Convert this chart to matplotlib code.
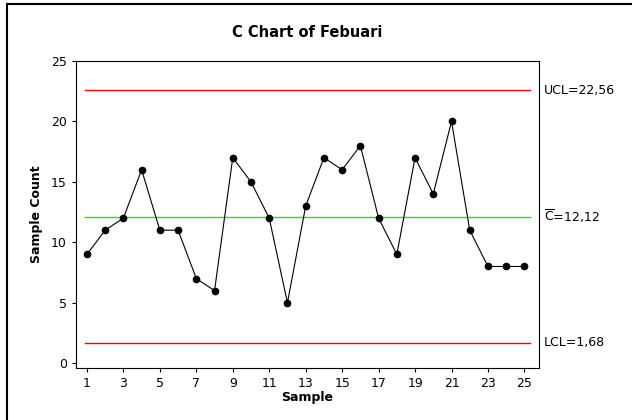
import matplotlib
matplotlib.use("Agg")
import matplotlib.pyplot as plt
from matplotlib.patches import Rectangle
import numpy as np

# Defect counts per sample (Febuari)
samples = list(range(1, 26))
counts = [9, 11, 12, 16, 11, 11, 7, 6, 17, 15, 12, 5, 13,
          17, 16, 18, 12, 9, 17, 14, 20, 11, 8, 8, 8]

# control limits for a C chart
c_bar = np.mean(counts)
ucl = c_bar + 3 * np.sqrt(c_bar)
lcl = max(c_bar - 3 * np.sqrt(c_bar), 0)

plt.rcParams['font.family'] = ['DejaVu Sans']

fig = plt.figure(figsize=(6.32, 4.20), dpi=100)
# outer frame of the graph window
fig.patches.append(Rectangle((7 / 632, -0.1), 1.2, 1 - 4 / 420 + 0.1,
                             transform=fig.transFigure, fill=False,
                             edgecolor='black', linewidth=1.5))

ax = fig.add_axes([76 / 632, 1 - 368 / 420, (539 - 76) / 632, (368 - 61) / 420])

ax.axhline(ucl, color='#ff0000', linewidth=1.0, xmin=0.02, xmax=0.98)
ax.axhline(lcl, color='#ff0000', linewidth=1.0, xmin=0.02, xmax=0.98)
ax.axhline(c_bar, color='#22dd22', linewidth=1.0, xmin=0.02, xmax=0.98)
ax.plot(samples, counts, color='black', linewidth=0.8, marker='o',
        markersize=4.5, zorder=3)

ax.set_xlim(0.4, 25.8)
ax.set_ylim(-0.4, 25)
ax.set_xticks(range(1, 26, 2))
ax.set_yticks(range(0, 26, 5))
ax.tick_params(direction='out', length=3, labelsize=9, width=0.8)
for s in ax.spines.values():
    s.set_linewidth(0.8)

ax.set_title("C Chart of Febuari", fontsize=10.5, fontweight='bold', pad=17)
ax.set_xlabel("Sample", fontsize=9, fontweight='bold', labelpad=1)
ax.set_ylabel("Sample Count", fontsize=9, fontweight='bold', labelpad=6)

def fmt(v):
    return f"{v:.2f}".replace('.', ',')

tr = ax.get_yaxis_transform()
ax.text(1.01, ucl, "UCL=" + fmt(ucl), transform=tr, va='center', ha='left', fontsize=9)
ax.text(1.01, c_bar, r"$\overline{\mathrm{C}}$=" + fmt(c_bar), transform=tr,
        va='center', ha='left', fontsize=9)
ax.text(1.01, lcl, "LCL=" + fmt(lcl), transform=tr, va='center', ha='left', fontsize=9)

fig.savefig("out.png", dpi=100)
